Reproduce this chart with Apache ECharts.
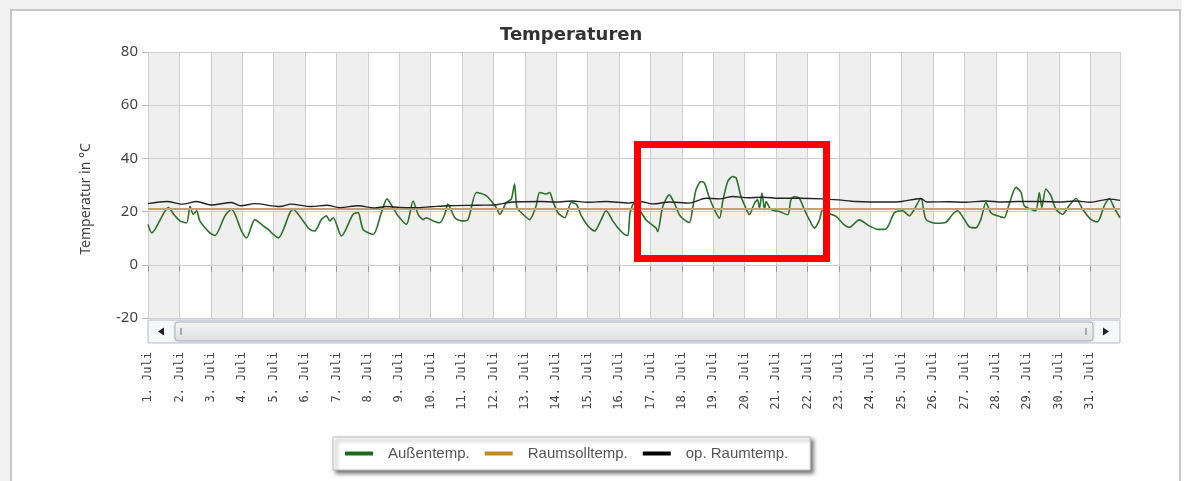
<!DOCTYPE html>
<html>
<head>
<meta charset="utf-8">
<title>Temperaturen</title>
<script src="https://cdn.jsdelivr.net/npm/echarts@6/dist/echarts.min.js"></script>
<style>
  html, body { margin: 0; padding: 0; background: #fff; }
  #chart { width: 1203px; height: 481px; }
</style>
</head>
<body>
<div id="chart"></div>
<script>
'use strict';

// Tageslabels der x-Achse (1 Tick pro Tag)
var dayLabels = ['1. Juli', '2. Juli', '3. Juli', '4. Juli', '5. Juli', '6. Juli', '7. Juli', '8. Juli',
  '9. Juli', '10. Juli', '11. Juli', '12. Juli', '13. Juli', '14. Juli', '15. Juli', '16. Juli',
  '17. Juli', '18. Juli', '19. Juli', '20. Juli', '21. Juli', '22. Juli', '23. Juli', '24. Juli',
  '25. Juli', '26. Juli', '27. Juli', '28. Juli', '29. Juli', '30. Juli', '31. Juli'];

// Außentemperatur: Zeitpunkt in Tagen seit 1. Juli 0:00, Wert in °C
var outsideDays = [0, 0.12, 0.65, 0.85, 1.02, 1.23, 1.34, 1.44, 1.55, 1.65, 1.97, 2.13, 2.45, 2.66, 2.98,
  3.14, 3.4, 3.56, 3.67, 3.83, 3.99, 4.15, 4.52, 4.62, 4.94, 5.15, 5.31, 5.52, 5.68, 5.79, 5.9, 6.16,
  6.53, 6.69, 6.85, 7.17, 7.43, 7.61, 7.8, 7.96, 8.23, 8.44, 8.6, 8.76, 8.86, 9.08, 9.29, 9.45, 9.55,
  9.77, 9.98, 10.19, 10.46, 10.77, 11.09, 11.2, 11.41, 11.57, 11.67, 11.75, 11.94, 12.15, 12.36, 12.47,
  12.68, 12.79, 12.89, 13.05, 13.27, 13.48, 13.64, 13.8, 14.01, 14.22, 14.43, 14.59, 14.8, 14.96, 15.17,
  15.28, 15.35, 15.49, 15.65, 15.86, 16.18, 16.23, 16.39, 16.6, 16.76, 16.92, 17.08, 17.24, 17.35, 17.45,
  17.61, 17.72, 17.88, 18.09, 18.2, 18.3, 18.46, 18.62, 18.73, 18.88, 19.04, 19.15, 19.31, 19.41, 19.47,
  19.55, 19.63, 19.68, 19.84, 20.1, 20.37, 20.47, 20.58, 20.74, 20.9, 21.06, 21.22, 21.38, 21.48, 21.65,
  21.91, 22.17, 22.33, 22.65, 22.97, 23.24, 23.5, 23.77, 24.03, 24.24, 24.61, 24.77, 25.09, 25.41, 25.62,
  25.78, 25.99, 26.15, 26.36, 26.52, 26.68, 26.84, 27.05, 27.26, 27.42, 27.64, 27.8, 27.9, 28.11, 28.27,
  28.38, 28.46, 28.59, 28.75, 28.91, 29.12, 29.33, 29.55, 29.76, 30.02, 30.23, 30.45, 30.61, 30.76, 30.95];
var outsideTemps = [15.2, 12, 21.5, 18.5, 16.5, 15.8, 22, 19, 20.3, 16.5, 12, 11, 18.4, 20.9, 12.7,
  10.1, 17, 15.8, 14.6, 13.3, 11.4, 10.1, 19.6, 20.9, 16.5, 13.3, 12.7, 17, 18.4, 16.5, 17.7, 10.8,
  19, 19.6, 13.3, 11.4, 19.6, 24.8, 21.5, 18.4, 15.2, 24, 19, 17, 17.7, 16.5, 15.8, 19, 22.8,
  17.7, 16.5, 17, 27.2, 26, 21.5, 19, 23.4, 24.7, 30.4, 21.5, 19, 17, 22.2, 27.2,
  26.6, 27.2, 24, 19.6, 17.7, 23.4, 22.8, 18.4, 14.6, 12.7, 17, 20.3, 16.5, 13.9, 11.4,
  11, 19.6, 23.4, 20.7, 16.9, 13.8, 12.5, 21.9, 26.3, 23.2, 18.8, 16.9, 15.9, 21.9, 28.2,
  31.3, 30.7, 25, 19.4, 17.5, 23.8, 31.3, 33.2, 32.6, 25.7, 21.3, 18.8, 23.2, 24.4, 21.3,
  27, 20.7, 23.8, 20.7, 20, 18.8, 24.4, 25.7, 25, 20.7, 16.9, 13.8, 16.9, 20.7, 19.5,
  18.2, 15, 14.1, 16.9, 14.6, 13.3, 13.5, 19.6, 20.3, 18.4, 24.9, 17.1, 15.6, 16, 19,
  20.3, 17.1, 14.3, 13.9, 17.1, 23.4, 19.6, 18.4, 17.7, 22.8, 29.1, 27.2, 22.2, 20.9, 20.3,
  27.2, 21.5, 28.5, 26, 20.9, 19, 22.2, 24.9, 20.9, 17.1, 16.1, 22.2, 24.9, 21.5, 17.7];

// Raumsolltemperatur (konstant)
var setDays = [0, 5, 10, 15, 20, 25, 30.95];
var setTemps = [21, 21, 21, 21, 21, 21, 21];

// operative Raumtemperatur
var opDays = [0, 0.6, 1.1, 1.55, 2, 2.66, 2.95, 3.4, 4.2, 4.55, 5.2, 5.7, 6.1, 6.7, 7.2, 7.6, 8, 8.5,
  9, 9.55, 10.5, 11.1, 11.6, 12.5, 13, 13.5, 14, 14.6, 15.3, 15.65, 16.07, 16.6, 17.24, 17.77, 18.2,
  18.62, 19.1, 19.58, 20.1, 20.74, 21.48, 22, 22.54, 23.6, 24, 24.61, 24.8, 25.5, 26, 26.68, 27.2,
  27.7, 28.5, 29, 29.55, 30, 30.61, 30.95];
var opTemps = [23, 23.8, 22.8, 23.8, 22.5, 23.4, 22.2, 23, 21.9, 22.8, 21.9, 22.4, 21.5, 22.2, 21.4, 21.9, 21.6, 21.5,
  21.8, 22.2, 22.4, 22.6, 23.6, 23.8, 23.6, 24, 23.5, 23.8, 23.2, 23.8, 22.9, 23.6, 23.2, 25, 24.8,
  25.7, 25.2, 25.4, 25, 25, 24.8, 24.4, 23.8, 23.6, 23.8, 24.9, 23.6, 23.7, 23.5, 24, 23.6,
  23.8, 23.8, 23.6, 24, 23.5, 24.7, 24.2];

var yTicks = { min: -20, max: 80, step: 20 };

function pairs(xs, ys) {
  var out = [];
  for (var i = 0; i < xs.length; i++) out.push([xs[i], ys[i]]);
  return out;
}

var myChart = echarts.init(document.getElementById('chart'), null, { renderer: 'canvas' });

// Scrollbar unter dem Plot (nur Optik)
var sbTop = 320, sbH = 23, sbLeft = 148, sbRight = 1120;
var scrollbar = [
  { type: 'rect', shape: { x: sbLeft, y: sbTop, width: sbRight - sbLeft, height: sbH },
    style: { fill: '#e9ecef', stroke: '#b9c1c9', lineWidth: 1 } },
  { type: 'rect', shape: { x: sbLeft + 1, y: sbTop + 1, width: 24, height: sbH - 2 },
    style: { fill: '#f6f7f8', stroke: null } },
  { type: 'polygon', shape: { points: [[158, sbTop + 11.5], [164, sbTop + 7.5], [164, sbTop + 15.5]] },
    style: { fill: '#222' } },
  { type: 'rect', shape: { x: 175, y: sbTop + 2, width: 918, height: sbH - 4, r: 3 },
    style: { fill: new echarts.graphic.LinearGradient(0, 0, 0, 1, [
      { offset: 0, color: '#f5f5f5' }, { offset: 1, color: '#dcdee0' }]),
      stroke: '#a9b1b9', lineWidth: 1 } },
  { type: 'rect', shape: { x: 180, y: sbTop + 8, width: 2, height: 7 }, style: { fill: '#aaa' } },
  { type: 'rect', shape: { x: 1085, y: sbTop + 8, width: 2, height: 7 }, style: { fill: '#aaa' } },
  { type: 'rect', shape: { x: 1095, y: sbTop + 1, width: 24, height: sbH - 2 },
    style: { fill: '#f6f7f8', stroke: null } },
  { type: 'polygon', shape: { points: [[1109, sbTop + 11.5], [1103, sbTop + 7.5], [1103, sbTop + 15.5]] },
    style: { fill: '#222' } }
];

var frame = [
  { type: 'rect', z: -10, shape: { x: 0, y: 0, width: 1182, height: 10 }, style: { fill: '#f1f1f1' } },
  { type: 'rect', z: -10, shape: { x: 0, y: 0, width: 11, height: 481 }, style: { fill: '#f1f1f1' } },
  { type: 'rect', z: -9, shape: { x: 11, y: 10, width: 1169, height: 480 },
    style: { fill: 'none', stroke: '#c6c6c6', lineWidth: 2 } }
];

// rote Markierung
var highlight = [
  { type: 'rect', z: 100, shape: { x: 637.5, y: 144.5, width: 189, height: 114 },
    style: { fill: 'none', stroke: '#ff0000', lineWidth: 7 } }
];

var option = {
  animation: false,
  backgroundColor: '#fff',
  title: {
    text: 'Temperaturen',
    left: 495,
    top: 21,
    textStyle: { fontFamily: 'DejaVu Sans', fontSize: 18, fontWeight: 'bold', color: '#333' }
  },
  legend: {
    left: 333,
    top: 437,
    padding: [9, 22, 9, 12],
    itemGap: 15,
    itemWidth: 28,
    itemHeight: 4,
    icon: 'rect',
    backgroundColor: '#fff',
    borderColor: '#bdbdbd',
    borderWidth: 1,
    shadowColor: 'rgba(0,0,0,0.55)',
    shadowBlur: 4,
    shadowOffsetX: 3,
    shadowOffsetY: 3,
    textStyle: { fontFamily: 'Liberation Sans', fontSize: 15, color: '#555', padding: [0, 0, 0, 10] },
    data: ['Außentemp.', 'Raumsolltemp.', 'op. Raumtemp.']
  },
  grid: { left: 148, right: 83, top: 52, bottom: 163 },
  xAxis: {
    type: 'value',
    z: 0,
    min: 0,
    max: 30.95,
    interval: 1,
    offset: 25,
    axisLine: { show: false },
    axisTick: { show: true, length: 7, lineStyle: { color: '#999' } },
    axisLabel: {
      rotate: 90,
      margin: 9,
      showMaxLabel: false,
      fontFamily: 'DejaVu Sans Mono',
      fontSize: 12,
      color: '#444',
      formatter: function (v) {
        return Math.round(v) === v ? (dayLabels[v] || '') : '';
      }
    },
    splitLine: { show: true, lineStyle: { color: '#cdcdcd', width: 1 } },
    splitArea: { show: true, areaStyle: { color: ['#efefef', 'rgba(255,255,255,0)'] } }
  },
  yAxis: {
    type: 'value',
    z: 1,
    min: yTicks.min,
    max: yTicks.max,
    interval: yTicks.step,
    name: 'Temperatur in °C',
    nameLocation: 'middle',
    nameGap: 55,
    nameTextStyle: { fontFamily: 'Noto Sans', fontSize: 14, color: '#444', padding: [0, 28, 0, 0] },
    axisLine: { show: false },
    axisTick: { show: true, length: 6, lineStyle: { color: '#bbb' } },
    axisLabel: { margin: 10, fontFamily: 'Noto Sans', fontSize: 15, color: '#444' },
    splitLine: { show: true, lineStyle: { color: '#cdcdcd', width: 1 } }
  },
  series: [
    {
      name: 'Außentemp.',
      type: 'line',
      z: 3,
      data: pairs(outsideDays, outsideTemps),
      showSymbol: false,
      smooth: 0.25,
      color: '#1d6b1d',
      lineStyle: { color: '#2a712a', width: 1.6 }
    },
    {
      name: 'Raumsolltemp.',
      type: 'line',
      z: 3,
      data: pairs(setDays, setTemps),
      showSymbol: false,
      color: '#c2862a',
      lineStyle: { color: '#c9a06a', width: 2 }
    },
    {
      name: 'op. Raumtemp.',
      type: 'line',
      z: 3,
      data: pairs(opDays, opTemps),
      showSymbol: false,
      smooth: 0.3,
      color: '#000',
      lineStyle: { color: '#222', width: 1.4 }
    }
  ],
  graphic: frame.concat(scrollbar).concat(highlight)
};

myChart.setOption(option);
</script>
</body>
</html>
